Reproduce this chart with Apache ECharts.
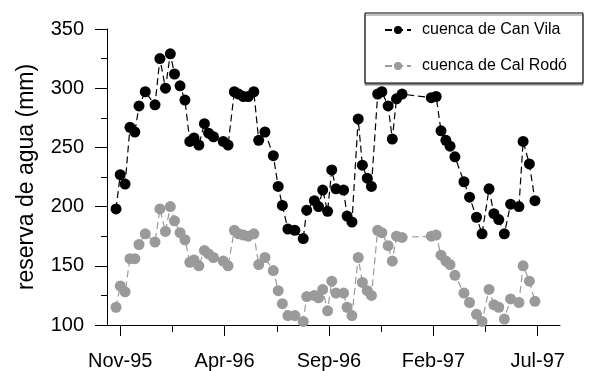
<!DOCTYPE html>
<html>
<head>
<meta charset="utf-8">
<script src="https://cdn.jsdelivr.net/npm/echarts@6/dist/echarts.min.js"></script>
<style>
  html, body { margin: 0; padding: 0; background: #fff; }
  #chart { width: 589px; height: 371px; }
</style>
</head>
<body>
<div id="chart"></div>
<script>
// days counted from the Nov-95 tick
var days = [-6, 0, 7, 14, 21, 27, 36, 50, 57, 65, 72, 78, 86, 93, 100, 106, 113, 121, 127, 134,
  148, 155, 164, 170, 177, 184, 192, 199, 208, 220, 227, 233, 241, 251, 263, 268, 279, 285, 291, 298,
  304, 310, 321, 326, 333, 342, 348, 355, 361, 370, 376, 385, 391, 397, 405, 447, 454, 461, 468, 474,
  481, 494, 502, 512, 520, 530, 537, 544, 552, 561, 573, 579, 588, 596];

var canVila = [198, 227, 219, 267, 263, 285, 297, 286, 325, 300, 329, 312, 302, 290, 255, 258, 252, 270, 262, 259,
  255, 252, 297, 295, 293, 293, 297, 256, 263, 243, 217, 201, 181, 180, 173, 197, 205, 200, 214, 196,
  231, 215, 214, 192, 187, 274, 235, 224, 217, 295, 297, 285, 257, 291, 295, 292, 293, 264, 256, 251,
  242, 221, 208, 191, 177, 215, 194, 189, 177, 202, 200, 255, 236, 205];

var calRodo = [115, 133, 128, 156, 156, 168, 177, 170, 198, 179, 200, 188, 178, 172, 153, 155, 150, 163, 160, 157,
  154, 150, 180, 177, 176, 175, 177, 151, 157, 146, 129, 118, 108, 108, 103, 124, 125, 123, 130, 112,
  137, 127, 127, 115, 108, 157, 136, 129, 125, 180, 178, 167, 154, 175, 174, 175, 176, 159, 154, 151,
  142, 127, 119, 109, 103, 130, 117, 115, 105, 122, 119, 150, 137, 120];

var majorTicks = [0, 150, 300, 450, 600];
var minorTicks = [75, 225, 375, 525];
var tickLabels = ['Nov-95', 'Apr-96', 'Sep-96', 'Feb-97', 'Jul-97'];

var chart = echarts.init(document.getElementById('chart'));
var font = 'Liberation Sans, Arial, sans-serif';

function pairs(ys) {
  return days.map(function (d, i) { return [d, ys[i]]; });
}

var option = {
  animation: false,
  textStyle: { fontFamily: font },
  grid: { left: 107, right: 29, top: 29, bottom: 45 },
  legend: {
    left: 365,
    top: 13,
    orient: 'vertical',
    padding: [9, 16, 9, 19],
    itemGap: 20,
    itemWidth: 26,
    itemHeight: 10,
    backgroundColor: '#fff',
    borderColor: '#000',
    borderWidth: 1,
    borderRadius: 0,
    shadowColor: '#888',
    shadowOffsetY: 2,
    textStyle: { fontSize: 16, color: '#000', fontFamily: font, padding: [0, 0, 0, 6] },
    data: ['cuenca de Can Vila', 'cuenca de Cal Rodó']
  },
  xAxis: [{
    type: 'value',
    min: -19,
    max: 632,
    splitLine: { show: false },
    axisLine: { onZero: false, lineStyle: { color: '#000', width: 1 } },
    axisTick: { customValues: majorTicks, length: 11, lineStyle: { color: '#000' } },
    axisLabel: {
      customValues: majorTicks,
      margin: 26,
      fontSize: 20,
      color: '#000',
      formatter: function (v) { return tickLabels[majorTicks.indexOf(v)]; }
    }
  }, {
    type: 'value',
    min: -19,
    max: 632,
    position: 'bottom',
    splitLine: { show: false },
    axisLine: { show: false, onZero: false },
    axisTick: { customValues: minorTicks, length: 7, lineStyle: { color: '#000' } },
    axisLabel: { show: false }
  }],
  yAxis: {
    type: 'value',
    min: 100,
    max: 350,
    interval: 50,
    name: 'reserva de agua (mm)',
    nameLocation: 'middle',
    nameGap: 69,
    nameTextStyle: { fontSize: 23, color: '#000' },
    splitLine: { show: false },
    axisLine: { show: true, onZero: false, lineStyle: { color: '#000', width: 1 } },
    axisTick: { length: 12, lineStyle: { color: '#000' } },
    minorTick: { show: true, splitNumber: 2, length: 6, lineStyle: { color: '#000' } },
    axisLabel: { margin: 23, fontSize: 20, color: '#000' }
  },
  series: [{
    name: 'cuenca de Can Vila',
    type: 'line',
    data: pairs(canVila),
    symbol: 'circle',
    symbolSize: 11,
    itemStyle: { color: '#000' },
    lineStyle: { color: '#000', width: 1.2, type: [7, 4] }
  }, {
    name: 'cuenca de Cal Rodó',
    type: 'line',
    data: pairs(calRodo),
    symbol: 'circle',
    symbolSize: 11,
    itemStyle: { color: '#9a9a9a' },
    lineStyle: { color: '#9a9a9a', width: 1.2, type: [7, 4] }
  }]
};

chart.setOption(option);
</script>
</body>
</html>
